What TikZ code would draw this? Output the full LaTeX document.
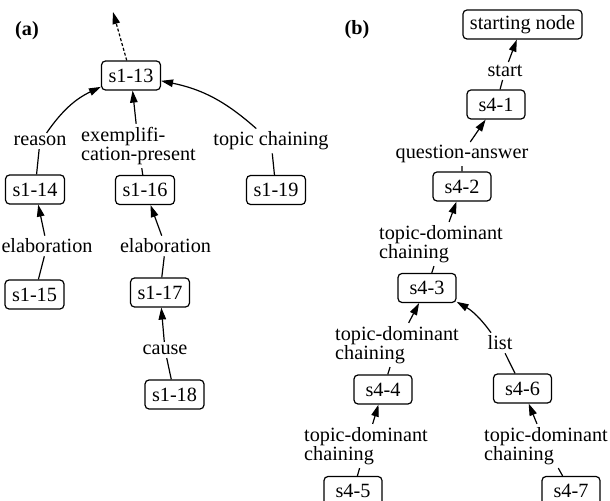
\documentclass[tikz,border=0pt]{standalone}
\usepackage{fontspec}
\setmainfont{Liberation Serif}
\usetikzlibrary{arrows.meta}

\begin{document}
\begin{tikzpicture}[x=1bp,y=1bp,font=\fontsize{20.3}{19.5}\selectfont,
  seg/.style={draw,rounded corners=4bp,line width=1.2bp,minimum width=58bp,minimum height=29bp,inner xsep=7bp,inner ysep=2bp},
  rel/.style={align=left,inner sep=3bp},
  link/.style={line width=1.2bp,-{Triangle[length=12bp,width=7.5bp]}}]
\useasboundingbox (0,0)rectangle(610,501);
\clip (0,0)rectangle(610,501);
\node (taga) at (27,470) {\bfseries(a)};
\node[seg] (s1-13) at (131,425.5) {s1-13};
\node[seg] (s1-14) at (35,311.5) {s1-14};
\node[seg] (s1-16) at (145,311) {s1-16};
\node[seg] (s1-19) at (276,311) {s1-19};
\node[seg] (s1-15) at (34.5,206.5) {s1-15};
\node[seg] (s1-17) at (160,208.5) {s1-17};
\node[seg] (s1-18) at (174.5,106.5) {s1-18};
\node[rel] (lreason) at (40,360) {reason};
\node[rel] (lexempl) at (138.5,355) {exemplifi-\\cation-present};
\node[rel] (ltopic) at (271,360) {topic chaining};
\node[rel] (lelab1) at (47,255) {elaboration};
\node[rel] (lelab2) at (165.5,255) {elaboration};
\node[rel] (lcause) at (165,151) {cause};
\coordinate (up) at (113,489);
\draw[link,dash pattern=on 3bp off 2bp] (s1-13) -- (up);
\draw[link] (s1-14) -- (lreason) to[bend left=15] (s1-13);
\draw[link] (s1-16) -- (lexempl) -- (s1-13);
\draw[link] (s1-19) -- (ltopic) to[bend right=15] (s1-13);
\draw[link] (s1-15) -- (lelab1) -- (s1-14);
\draw[link] (s1-17) -- (lelab2) -- (s1-16);
\draw[link] (s1-18) -- (lcause) -- (s1-17);
\node (tagb) at (357,471) {\bfseries(b)};
\node[seg] (s0) at (522.5,476.5) {starting node};
\node[seg] (s4-1) at (496,396.5) {s4-1};
\node[seg] (s4-2) at (462,314.5) {s4-2};
\node[seg] (s4-3) at (427,213) {s4-3};
\node[seg] (s4-4) at (383,111.5) {s4-4};
\node[seg] (s4-6) at (522.5,112.5) {s4-6};
\node[seg] (s4-5) at (353,10) {s4-5};
\node[seg] (s4-7) at (571,10) {s4-7};
\node[rel] (lstart) at (505,430) {start};
\node[rel] (lqa) at (462,347) {question-answer};
\node[rel] (ltdc1) at (441,257) {topic-dominant\\chaining};
\node[rel] (ltdc2) at (397,156) {topic-dominant\\chaining};
\node[rel] (llist) at (500,158) {list};
\node[rel] (ltdc3) at (366,55) {topic-dominant\\chaining};
\node[rel] (ltdc4) at (546,55) {topic-dominant\\chaining};
\draw[link] (s4-1) -- (lstart) -- (s0);
\draw[link] (s4-2) -- (lqa) -- (s4-1);
\draw[link] (s4-3) -- (ltdc1) -- (s4-2);
\draw[link] (s4-4) -- (ltdc2) -- (s4-3);
\draw[link] (s4-6) -- (llist) to[bend right=12] (s4-3);
\draw[link] (s4-5) -- (ltdc3) -- (s4-4);
\draw[link] (s4-7) -- (ltdc4) -- (s4-6);
\end{tikzpicture}
\end{document}
